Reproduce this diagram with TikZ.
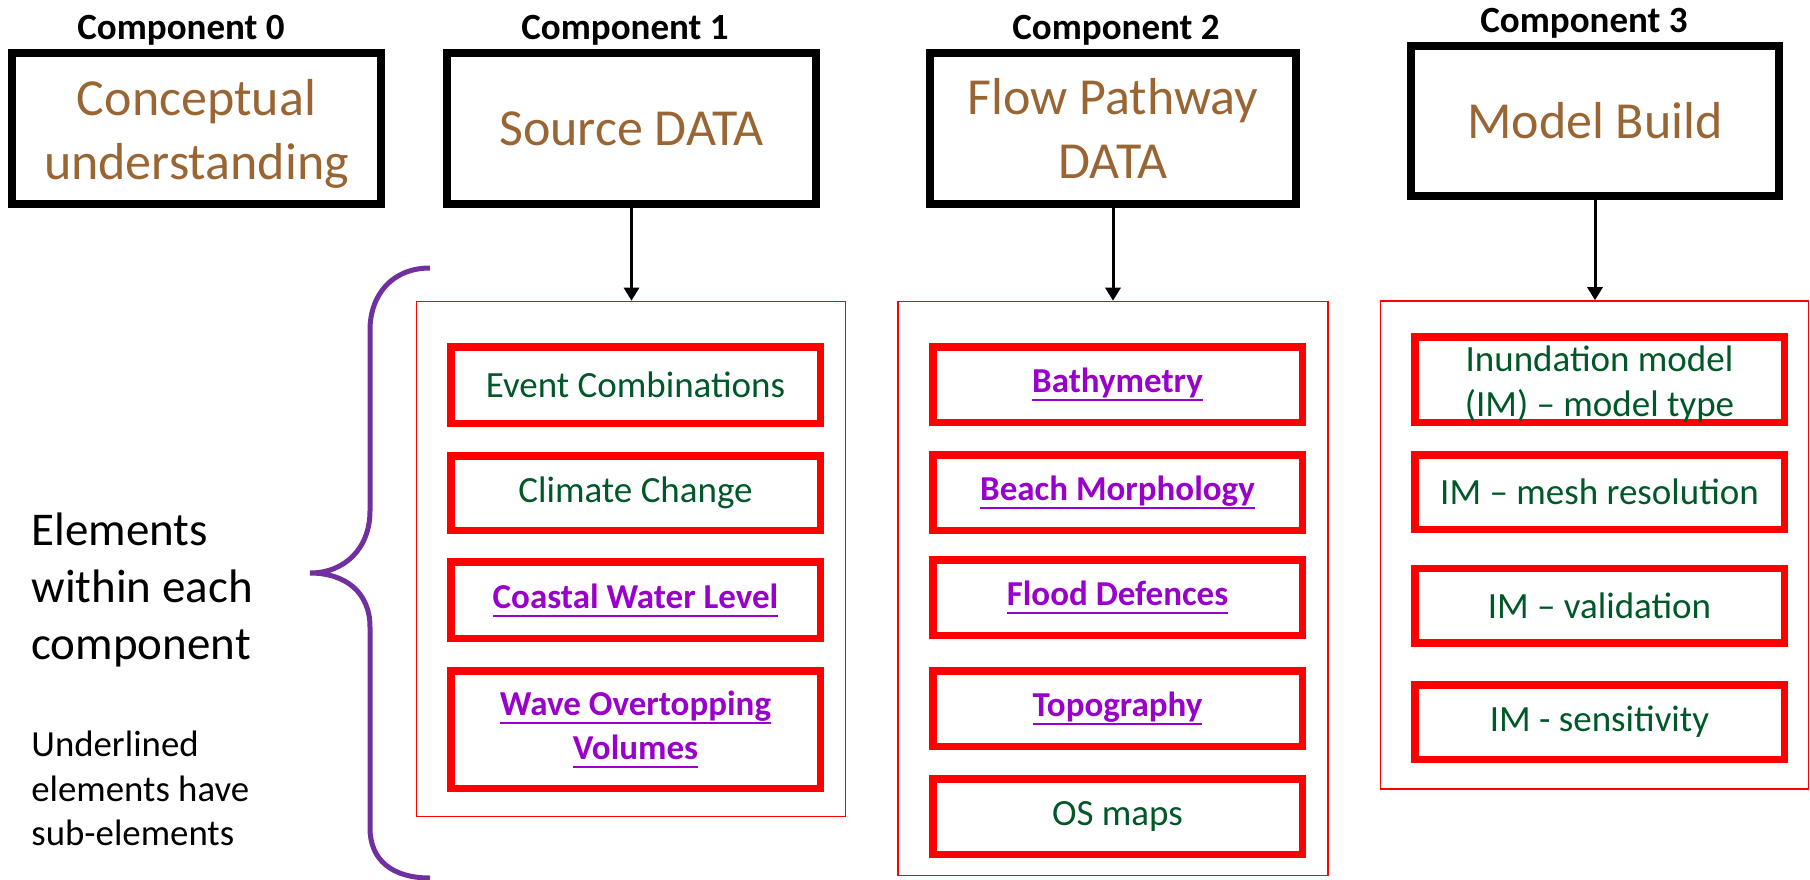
\documentclass[tikz,border=0pt]{standalone}
\usepackage{fontspec}
\setmainfont{Carlito}
\newsavebox{\ulinebox}
\newcommand{\myul}[1]{\sbox{\ulinebox}{#1}\leavevmode\rlap{\raisebox{-4.25pt}{\rule{\wd\ulinebox}{1pt}}}\usebox{\ulinebox}}
\usetikzlibrary{arrows.meta}
\definecolor{brn}{RGB}{153,102,51}
\definecolor{dgreen}{RGB}{0,88,40}
\definecolor{purp}{RGB}{153,0,204}
\definecolor{bracec}{RGB}{112,48,160}
\definecolor{redc}{RGB}{255,0,0}
\begin{document}
\begin{tikzpicture}[x=0.5pt,y=-0.5pt,
 comp/.style={anchor=base,inner sep=0pt,font=\fontsize{18.5}{22}\selectfont\bfseries},
 titlebox/.style={draw=black,line width=4pt,minimum height=75.5pt,inner sep=0pt,align=center,text=brn,font=\fontsize{26}{32}\selectfont},
 container/.style={draw=redc,line width=0.8pt,inner sep=0pt},
 elem/.style={draw=redc,line width=3.75pt,inner sep=0pt,minimum width=184.75pt,minimum height=37.75pt,align=center,text=dgreen,font=\fontsize{18.5}{22.5}\selectfont},
 subel/.style={elem,text=purp,font=\fontsize{17.5}{22}\selectfont\bfseries},
 arr/.style={-{Triangle[length=6.5pt,width=7.5pt]},line width=1.5pt}
]
\useasboundingbox (0,0) rectangle (1810,879);

% component labels
\node[comp] (l0) at (181,39) {Component 0};
\node[comp] (l1) at (625,39) {Component 1};
\node[comp] (l2) at (1116,39) {Component 2};
\node[comp] (l3) at (1584,32) {Component 3};

% title boxes
\node[titlebox,minimum width=184.5pt] (b0) at (196.5,128.5) {\rule{0pt}{23.5pt}Conceptual\\understanding};
\node[titlebox,minimum width=184.5pt] (b1) at (631.5,128.5) {Source DATA};
\node[titlebox,minimum width=183pt] (b2) at (1113,128.5) {Flow Pathway\\DATA};
\node[titlebox,minimum width=184pt,minimum height=75pt] (b3) at (1595,121) {Model Build};

% containers
\node[container,minimum width=214.5pt,minimum height=257.5pt] (c1) at (631,559) {};
\node[container,minimum width=215pt,minimum height=287pt] (c2) at (1113,588.5) {};
\node[container,minimum width=214pt,minimum height=244pt] (c3) at (1594.5,545) {};

% arrows
\draw[arr] (b1.south) -- (b1.south |- c1.north);
\draw[arr] (b2.south) -- (b2.south |- c2.north);
\draw[arr] (b3.south) -- (b3.south |- c3.north);

% column 1
\node[elem,minimum height=38.25pt] (e11) at (635.5,385) {Event Combinations};
\node[elem,minimum height=37.25pt] (e12) at (635.5,493) {Climate Change};
\node[subel,minimum height=38.25pt] (e13) at (635.5,600) {\myul{Coastal Water Level}};
\node[subel,minimum height=58.75pt] (e14) at (635.5,729.5) {\myul{Wave Overtopping}\\\myul{Volumes}};

% column 2
\node[subel] (e21) at (1117.5,384.5) {\myul{Bathymetry}};
\node[subel] (e22) at (1117.5,492.5) {\myul{Beach Morphology}};
\node[subel] (e23) at (1117.5,597.5) {\myul{Flood Defences}};
\node[subel] (e24) at (1117.5,708.5) {\myul{Topography}};
\node[elem] (e25) at (1117.5,816.5) {OS maps};

% column 3
\node[elem,minimum height=42.75pt] (e31) at (1599.5,379.5) {\rule{0pt}{17pt}Inundation model\\(IM) – model type};
\node[elem,minimum height=37.25pt] (e32) at (1599.5,492) {IM – mesh resolution};
\node[elem,minimum height=37.25pt] (e33) at (1599.5,605.5) {IM – validation};
\node[elem,minimum height=37.25pt] (e34) at (1599.5,722) {IM - sensitivity};

% brace
\draw[bracec,line width=2.5pt] (430,268) .. controls (392,268) and (370,295) .. (370,330) -- (370,511) .. controls (370,548) and (345,573) .. (310,573) .. controls (345,573) and (370,592) .. (370,627) -- (370,828) .. controls (370,860) and (392,878) .. (430,878);

% side texts
\node[anchor=west,align=left,inner sep=0pt,font=\fontsize{23.5}{28.5}\selectfont] (elt) at (31,590) {Elements\\within each\\component};
\node[anchor=west,align=left,inner sep=0pt,font=\fontsize{18.4}{22.25}\selectfont] (und) at (31,788.5) {Underlined\\elements have\\sub-elements};
\end{tikzpicture}
\end{document}
